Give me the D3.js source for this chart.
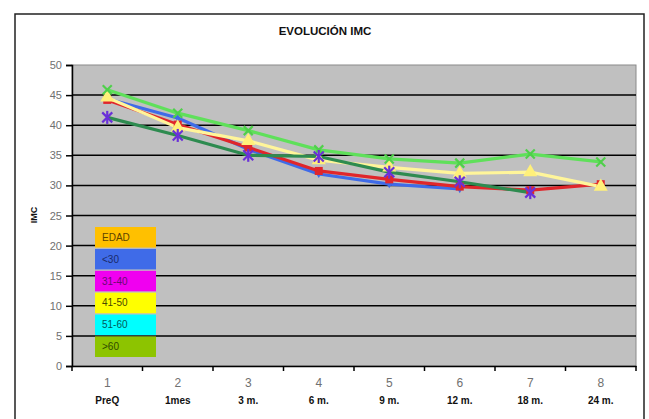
<!DOCTYPE html>
<html><head><meta charset="utf-8">
<script src="https://cdn.jsdelivr.net/npm/d3@7"></script>
<style>body{margin:0;background:#fff}svg{display:block}</style>
</head><body><div id="c"></div>
<script>
const categories = ["1","2","3","4","5","6","7","8"];
const periodLabels = ["PreQ","1mes","3 m.","6 m.","9 m.","12 m.","18 m.","24 m."];
const yTicks = [0,5,10,15,20,25,30,35,40,45,50];
const seriesLt30  = [44.4, 41.2, 36.0, 31.9, 30.2, 29.4, null, null];
const series31_40 = [44.2, 40.1, 36.3, 32.4, 31.0, 29.8, 29.2, 30.2];
const series41_50 = [44.6, 39.6, 37.4, 34.2, 33.0, 32.0, 32.2, 29.8];
const series51_60 = [45.9, 42.0, 39.1, 35.9, 34.4, 33.7, 35.2, 33.9];
const seriesGt60  = [41.3, 38.3, 35.0, 34.8, 32.2, 30.6, 28.8, null];
const legendLabels = ["EDAD","<30","31-40","41-50","51-60",">60"];
const legendColors = ["#FFC000","#3F6BE8","#F000F0","#FFFF00","#00FFFF","#8DC400"];
const legendText   = ["#5e4400","#1a2a6a","#6a0a70","#4a4a00","#005a5a","#2f4a00"];
const title = "EVOLUCIÓN IMC";
const yTitle = "IMC";

const W = 649, H = 419;
const svg = d3.select("#c").append("svg").attr("width", W).attr("height", H);
svg.append("rect").attr("x",15).attr("y",14).attr("width",629).attr("height",420)
  .attr("fill","#fff").attr("stroke","#222").attr("stroke-width",1.5);

const m = {l:72, r:636, t:65, b:366};
const x = d3.scaleBand().domain(categories).range([m.l, m.r]).padding(0);
const y = d3.scaleLinear().domain([0,50]).range([m.b, m.t]);

svg.append("rect").attr("x",m.l).attr("y",m.t).attr("width",m.r-m.l).attr("height",m.b-m.t)
  .attr("fill","#C0C0C0").attr("stroke","#8a8a8a").attr("stroke-width",1);

// gridlines
svg.append("g").selectAll("line").data(yTicks.filter(d=>d>0 && d<50)).join("line")
  .attr("x1",m.l).attr("x2",m.r).attr("y1",d=>y(d)).attr("y2",d=>y(d))
  .attr("stroke","#000").attr("stroke-width",1.5);

// y axis
const ya = svg.append("g").attr("transform",`translate(${m.l},0)`)
  .call(d3.axisLeft(y).tickValues(yTicks).tickSize(6).tickPadding(4));
ya.select(".domain").attr("stroke","#000").attr("stroke-width",1.5);
ya.selectAll(".tick line").attr("stroke","#000").attr("stroke-width",1.5);
ya.selectAll("text").attr("fill","#707070").attr("font-family","Liberation Sans, Arial, sans-serif").attr("font-size",11);

// x axis
const xa = svg.append("g").attr("transform",`translate(0,${m.b})`)
  .call(d3.axisBottom(x).tickSize(0).tickPadding(12));
xa.select(".domain").attr("stroke","#000").attr("stroke-width",1.5);
xa.selectAll("text").attr("fill","#707070").attr("font-family","Liberation Sans, Arial, sans-serif").attr("font-size",12);
// band boundary ticks
svg.append("g").selectAll("line").data(categories.slice(1).concat(["end"])).join("line")
  .attr("x1",d=>d==="end"?m.r:x(d)).attr("x2",d=>d==="end"?m.r:x(d))
  .attr("y1",m.b).attr("y2",m.b+5).attr("stroke","#000").attr("stroke-width",1.5);
svg.append("line").attr("x1",m.l).attr("x2",m.l).attr("y1",m.b).attr("y2",m.b+5).attr("stroke","#000").attr("stroke-width",1.5);

// period labels
svg.append("g").selectAll("text").data(periodLabels).join("text")
  .attr("x",(d,i)=>x(categories[i])+x.bandwidth()/2).attr("y",404)
  .attr("text-anchor","middle").attr("font-family","Liberation Sans, Arial, sans-serif")
  .attr("font-size",10).attr("font-weight","bold").attr("fill","#111").text(d=>d);

// titles
svg.append("text").attr("x",325).attr("y",35).attr("text-anchor","middle")
  .attr("font-family","Liberation Sans, Arial, sans-serif").attr("font-size",11.5).attr("font-weight","bold")
  .attr("fill","#111").text(title);
svg.append("text").attr("transform","translate(37,215) rotate(-90)").attr("text-anchor","middle")
  .attr("font-family","Liberation Sans, Arial, sans-serif").attr("font-size",9).attr("font-weight","bold")
  .attr("fill","#111").text(yTitle);

// series
const cx = i => x(categories[i]) + x.bandwidth()/2;
const line = d3.line().defined(d=>d!=null).x((d,i)=>cx(i)).y(d=>y(d));
const series = [
  {vals: seriesLt30,  color:"#3F6BE8", marker:"diamond", mcolor:"#3F6BE8"},
  {vals: series31_40, color:"#E0262B", marker:"square",  mcolor:"#E0262B"},
  {vals: series41_50, color:"#FFF59A", marker:"triangle",mcolor:"#FFF07A"},
  {vals: series51_60, color:"#5FE05A", marker:"cross",   mcolor:"#4FD04A"},
  {vals: seriesGt60,  color:"#2E8B50", marker:"asterisk",mcolor:"#6A30D8"}
];
const symMap = {diamond:d3.symbolDiamond, square:d3.symbolSquare, triangle:d3.symbolTriangle};
series.forEach(s=>{
  svg.append("path").datum(s.vals).attr("d",line).attr("fill","none")
    .attr("stroke",s.color).attr("stroke-width",3.2).attr("stroke-linejoin","round");
});
series.forEach(s=>{
  const g = svg.append("g");
  s.vals.forEach((v,i)=>{
    if(v==null) return;
    const px = cx(i), py = y(v);
    if(symMap[s.marker]){
      const size = s.marker==="diamond"?20:(s.marker==="square"?64:85);
      g.append("path").attr("d",d3.symbol().type(symMap[s.marker]).size(size)())
        .attr("transform",`translate(${px},${py})`).attr("fill",s.mcolor);
    } else {
      const r = s.marker==="cross" ? 4.5 : 5;
      const segs = s.marker==="cross" ? [[-r,-r,r,r],[-r,r,r,-r]] :
        [[-r,-r,r,r],[-r,r,r,-r],[0,-r-1.5,0,r+1.5]];
      segs.forEach(sg=>g.append("line").attr("x1",px+sg[0]).attr("y1",py+sg[1])
        .attr("x2",px+sg[2]).attr("y2",py+sg[3]).attr("stroke",s.mcolor).attr("stroke-width",2.2));
    }
  });
});

// legend box
const legY = d3.scaleBand().domain(legendLabels).range([227,357]).paddingInner(0.06);
const lg = svg.append("g");
legendLabels.forEach((lab,i)=>{
  lg.append("rect").attr("x",95).attr("y",legY(lab)).attr("width",61).attr("height",legY.bandwidth())
    .attr("fill",legendColors[i]);
  lg.append("text").attr("x",102).attr("y",legY(lab)+legY.bandwidth()/2+3.5)
    .attr("font-family","Liberation Sans, Arial, sans-serif").attr("font-size",10)
    .attr("fill",legendText[i]).text(lab);
});
</script></body></html>
